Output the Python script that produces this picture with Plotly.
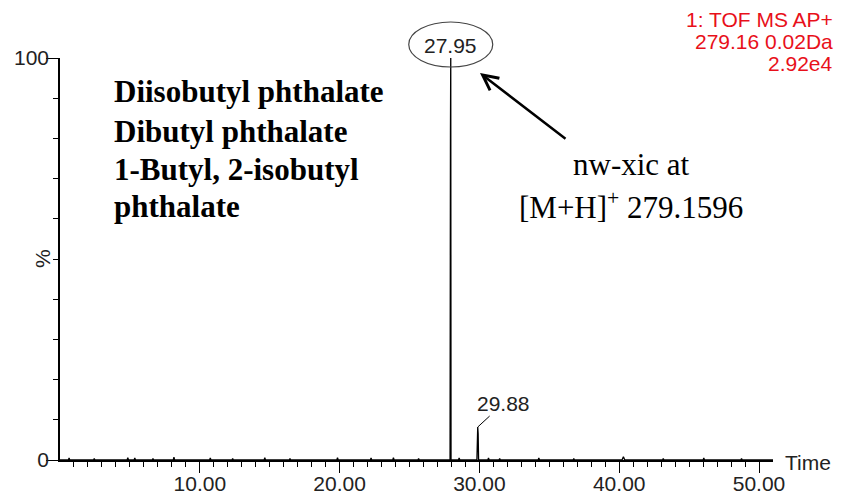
import plotly.graph_objects as go

# ---------------- data ----------------
rt = [
    0.00,
    0.60, 0.65, 0.70,
    2.40, 2.45, 2.50,
    4.80, 4.85, 4.90,
    5.30, 5.35, 5.40,
    6.60, 6.65, 6.70,
    8.10, 8.15, 8.20,
    10.70, 10.75, 10.80,
    12.30, 12.35, 12.40,
    14.60, 14.65, 14.70,
    16.40, 16.45, 16.50,
    19.80, 19.85, 19.90,
    22.20, 22.25, 22.30,
    23.80, 23.85, 23.90,
    25.60, 25.65, 25.70,
    27.90, 27.93, 27.95, 27.97,
    28.50, 28.55, 28.60,
    29.82, 29.85, 29.88, 29.91, 29.94,
    30.60, 30.65, 30.70,
    31.40, 31.45, 31.50,
    34.20, 34.25, 34.30,
    36.70, 36.75, 36.80,
    40.20, 40.30, 40.40,
    43.10, 43.15, 43.20,
    46.00, 46.05, 46.10,
    48.70, 48.75, 48.80,
    51.00,
]
pct = [
    0.0,
    0.0, 0.5, 0.0,
    0.0, 0.4, 0.0,
    0.0, 0.6, 0.0,
    0.0, 0.5, 0.0,
    0.0, 0.4, 0.0,
    0.0, 0.7, 0.0,
    0.0, 0.5, 0.0,
    0.0, 0.4, 0.0,
    0.0, 0.6, 0.0,
    0.0, 0.4, 0.0,
    0.0, 0.6, 0.0,
    0.0, 0.5, 0.0,
    0.0, 0.6, 0.0,
    0.0, 0.4, 0.0,
    0.0, 82.0, 100.0, 0.0,
    0.0, 0.5, 0.0,
    0.0, 6.0, 8.2, 6.5, 0.0,
    0.0, 0.5, 0.0,
    0.0, 0.4, 0.0,
    0.0, 0.5, 0.0,
    0.0, 0.4, 0.0,
    0.0, 0.8, 0.0,
    0.0, 0.4, 0.0,
    0.0, 0.5, 0.0,
    0.0, 0.4, 0.0,
    0.0,
]
assert len(rt) == len(pct)

peak_times = [27.95, 29.88]
peak_heights = [100.0, 8.2]
peak_labels = ["27.95", "29.88"]

x_tickvals = [5, 10, 15, 20, 25, 30, 35, 40, 45, 50]
x_ticktext = ["", "10.00", "", "20.00", "", "30.00", "", "40.00", "", "50.00"]
x_minor = [i for i in range(1, 51)]
y_tickvals = [0, 100]
y_ticktext = ["0", "100"]
y_minor = [10, 20, 30, 40, 50, 60, 70, 80, 90]

compound_lines = ["Diisobutyl phthalate", "Dibutyl phthalate",
                  "1-Butyl, 2-isobutyl", "phthalate"]
xic_lines = ["nw-xic at", "[M+H]<sup>+</sup> 279.1596"]
header_lines = ["1: TOF MS AP+", "279.16 0.02Da", "2.92e4"]

# ---------------- layout helpers ----------------
W, H = 842, 496
L, R, T, B = 60, 69, 58, 36


def px_x(px):
    return (px - L) / (W - L - R)


def px_y(py):
    return (H - B - py) / (H - T - B)


SANS = "Liberation Sans, Arial, sans-serif"
SERIF = "Liberation Serif, Times New Roman, serif"
TICK_COLOR = "#222222"

fig = go.Figure()
fig.add_trace(go.Scatter(x=rt, y=pct, mode="lines",
                         line=dict(color="black", width=1.3),
                         hoverinfo="skip", showlegend=False))

annotations = []
# compound names (bold serif)
for text, base in zip(compound_lines, [104, 143, 181, 218]):
    annotations.append(dict(xref="paper", yref="paper", x=px_x(112), y=px_y(base - 12),
                            xanchor="left", yanchor="middle", showarrow=False,
                            text="<b>" + text + "</b>",
                            font=dict(family=SERIF, size=31, color="black")))
# nw-xic text
for text, cy in zip(xic_lines, [164.5, 205.5]):
    annotations.append(dict(xref="paper", yref="paper", x=px_x(631), y=px_y(cy),
                            xanchor="center", yanchor="middle", showarrow=False,
                            text=text, font=dict(family=SERIF, size=31, color="black")))
# header (red)
for text, cy in zip(header_lines, [19.7, 41.3, 63.0]):
    annotations.append(dict(xref="paper", yref="paper", x=px_x(834), y=px_y(cy),
                            xanchor="right", yanchor="middle", showarrow=False,
                            borderpad=0,
                            text=text, font=dict(family=SANS, size=21, color="#e8101a")))
# peak labels
annotations.append(dict(xref="x", yref="y", x=peak_times[0], y=peak_heights[0],
                        yshift=13, xanchor="center", yanchor="middle", showarrow=False,
                        text=peak_labels[0], font=dict(family=SANS, size=21, color=TICK_COLOR)))
annotations.append(dict(xref="x", yref="y", x=peak_times[1], y=peak_heights[1],
                        ax=26, ay=-24, showarrow=True, arrowhead=0, arrowwidth=1,
                        arrowcolor="black", standoff=0,
                        text=peak_labels[1], font=dict(family=SANS, size=21, color=TICK_COLOR)))
# big arrow
annotations.append(dict(xref="paper", yref="paper", x=px_x(480), y=px_y(73),
                        ax=87, ay=67, showarrow=True, arrowhead=5, arrowsize=1.2,
                        arrowwidth=2.5, arrowcolor="black", standoff=0, text=""))
# axis labels
annotations.append(dict(xref="paper", yref="paper", x=px_x(42), y=0.5,
                        xanchor="center", yanchor="middle", showarrow=False,
                        textangle=-90, text="%",
                        font=dict(family=SANS, size=21, color=TICK_COLOR)))
annotations.append(dict(xref="paper", yref="paper", x=px_x(808), y=px_y(462),
                        xanchor="center", yanchor="middle", showarrow=False,
                        text="Time", font=dict(family=SANS, size=21, color=TICK_COLOR)))

fig.update_layout(
    width=W, height=H,
    margin=dict(l=L, r=R, t=T, b=B, pad=0, autoexpand=False),
    paper_bgcolor="white", plot_bgcolor="white",
    showlegend=False,
    annotations=annotations,
    shapes=[dict(type="circle", xref="x", yref="paper",
                 xsizemode="pixel", xanchor=peak_times[0], x0=-42, x1=42,
                 ysizemode="pixel", yanchor=1, y0=-9, y1=36,
                 line=dict(color="#444444", width=1.2))],
    xaxis=dict(range=[0, 51], showgrid=False, zeroline=False, automargin=False,
               showline=True, linecolor="black", linewidth=1.5,
               tickmode="array", tickvals=x_tickvals, ticktext=x_ticktext,
               ticks="outside", ticklen=11, tickwidth=1, tickcolor="black",
               ticklabelstandoff=-7,
               tickfont=dict(family=SANS, size=21, color=TICK_COLOR),
               minor=dict(tickmode="array", tickvals=x_minor, ticks="outside",
                          ticklen=5, tickwidth=1, tickcolor="black", showgrid=False)),
    yaxis=dict(range=[0, 100], showgrid=False, zeroline=False, automargin=False,
               showline=True, linecolor="black", linewidth=1.5,
               tickmode="array", tickvals=y_tickvals, ticktext=y_ticktext,
               ticks="outside", ticklen=12, tickwidth=1, tickcolor="black",
               ticklabelstandoff=-7,
               tickfont=dict(family=SANS, size=21, color=TICK_COLOR),
               minor=dict(tickmode="array", tickvals=y_minor, ticks="outside",
                          ticklen=5, tickwidth=1, tickcolor="black", showgrid=False)),
)

fig.write_html("out.html")
